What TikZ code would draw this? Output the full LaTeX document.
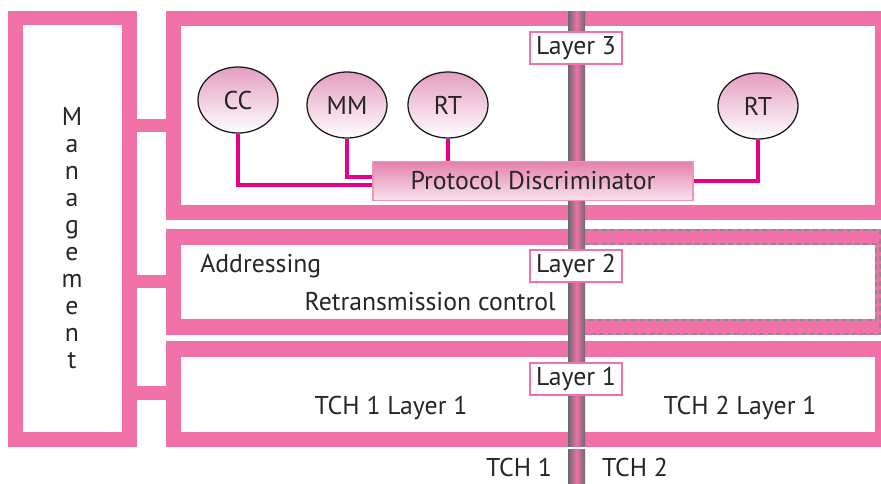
\documentclass[tikz,border=0pt]{standalone}
\usepackage{fontspec}
\setmainfont{PT Sans}
\usetikzlibrary{calc,shapes.geometric}

\definecolor{framepink}{RGB}{240,114,168}
\definecolor{linkmagenta}{RGB}{232,0,136}
\definecolor{ovaltop}{RGB}{228,158,194}
\definecolor{pdtop}{RGB}{228,128,174}
\definecolor{pdbottom}{RGB}{250,228,238}
\definecolor{pdedge}{RGB}{236,150,190}
\definecolor{cablegray}{RGB}{105,105,110}
\definecolor{dashgray}{RGB}{140,140,140}

\begin{document}
\begin{tikzpicture}[x=0.025cm,y=-0.025cm,
  txt/.style={font=\fontsize{18.3}{20}\selectfont,text=black!85,inner sep=0pt},
  oval/.style={txt,ellipse,draw=black!90,line width=0.9pt,top color=ovaltop,bottom color=white,minimum width=2cm,minimum height=1.65cm},
  laybox/.style={txt,draw=framepink,line width=1.4pt,fill=white,minimum width=2.3cm,minimum height=0.82cm},
  pdbox/.style={txt,draw=pdedge,line width=1pt,top color=pdtop,bottom color=pdbottom,minimum width=8cm,minimum height=0.975cm},
  link/.style={linkmagenta,line width=2.2pt},
  dashline/.style={dashgray,line width=1.4pt,dash pattern=on 3.5pt off 2.5pt}]

\useasboundingbox (0,0) rectangle (881,483);

% frames
\fill[framepink] (8,11) rectangle (137,447);
\fill[white] (23,25) rectangle (122,432);

\fill[framepink] (166,11) rectangle (881,220);
\fill[white] (181,26) rectangle (875,205);

\fill[framepink] (166,229) rectangle (881,335);
\fill[white] (181,245) rectangle (875,319);

\fill[framepink] (166,341) rectangle (881,447);
\fill[white] (181,357) rectangle (875,432);

\fill[framepink] (137,119) rectangle (166,132);
\fill[framepink] (137,275) rectangle (166,288);
\fill[framepink] (137,386) rectangle (166,400);

% cable between TCH 1 and TCH 2
\shade[left color=cablegray,right color=cablegray,middle color=framepink] (568,11) rectangle (585,446);
\shade[left color=cablegray,right color=cablegray,middle color=framepink] (568,449) rectangle (585,483);

\draw[dashline] (585,230) -- (880,230) -- (880,334) -- (585,334);
\draw[dashline] (585,244) -- (876,244) -- (876,320) -- (585,320);

% text
\node[txt,align=center,font=\fontsize{18.3}{19.2}\selectfont] (mgmt) at (72,238) {M\\a\\n\\a\\g\\e\\m\\e\\n\\t};

\node[laybox] (l3) at (576,48) {Layer 3};
\node[laybox] (l2) at (576,266) {Layer 2};
\node[laybox] (l1) at (576,379) {Layer 1};

\node[oval] (cc) at (238,100) {CC};
\node[oval] (mm) at (347,105) {MM};
\node[oval] (rta) at (448,105) {RT};
\node[oval] (rtb) at (758,106) {RT};
\node[pdbox] (pd) at (533,181) {Protocol Discriminator};

\draw[link] (cc.south) |- ($(pd.west)+(0,4)$);
\draw[link] (mm.south) |- ($(pd.west)+(0,-4)$);
\draw[link] (rta.south) -- (rta.south |- pd.north);
\draw[link] (rtb.south) |- (pd.east);

\node[txt,anchor=west] (addr) at (200,266) {Addressing};
\node[txt,anchor=east] (retx) at (556,302) {Retransmission control};

\node[txt] (tcha) at (391,408) {TCH 1 Layer 1};
\node[txt] (tchb) at (740,408) {TCH 2 Layer 1};
\node[txt] (cha) at (519,467) {TCH 1};
\node[txt] (chb) at (635,467) {TCH 2};
\end{tikzpicture}
\end{document}
